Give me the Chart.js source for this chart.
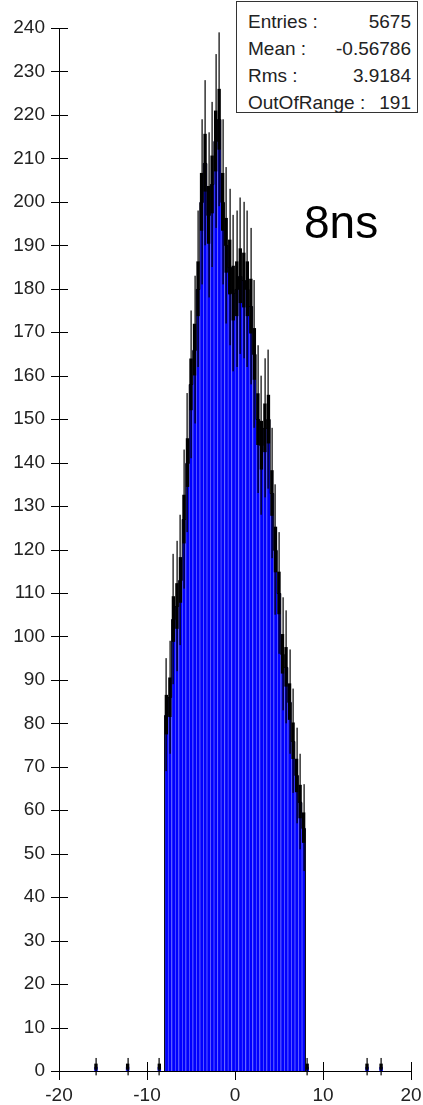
<!DOCTYPE html>
<html>
<head>
<meta charset="utf-8">
<script src="https://cdn.jsdelivr.net/npm/chart.js@4/dist/chart.umd.min.js"></script>
<style>
  html, body { margin: 0; padding: 0; background: #fff; }
  #wrap { position: relative; width: 423px; height: 1105px; overflow: hidden; }
  #c { position: absolute; left: 0; top: 0; }
  .stats { position: absolute; left: 236px; top: 1px; width: 180px; height: 110px;
           border: 1px solid #333; background: #fff; box-sizing: content-box;
           font-family: "Liberation Sans", Arial, sans-serif; font-size: 19px; color: #222; }
  .row { position: absolute; left: 11px; width: 163px; height: 19px; line-height: 19px; white-space: nowrap; }
  .row .v { position: absolute; right: 0; top: 0; }
  .tag { position: absolute; left: 304px; top: 199px; font-family: "Liberation Sans", Arial, sans-serif;
         font-size: 46px; line-height: 46px; color: #000; white-space: nowrap; }
</style>
</head>
<body>
<div id="wrap">
  <canvas id="c" width="423" height="1105"></canvas>
  <div class="stats">
    <div class="row" style="top:10px">Entries :<span class="v">5675</span></div>
    <div class="row" style="top:37px">Mean :<span class="v">-0.56786</span></div>
    <div class="row" style="top:64px">Rms :<span class="v">3.9184</span></div>
    <div class="row" style="top:91px">OutOfRange :<span class="v">191</span></div>
  </div>
  <div class="tag">8ns</div>
</div>
<script>
// ---- data ----
const xTicks = [-20, -10, 0, 10, 20];
const yTicks = [0, 10, 20, 30, 40, 50, 60, 70, 80, 90, 100, 110, 120, 130, 140, 150, 160, 170, 180, 190, 200, 210, 220, 230, 240];
const binWidth = 0.4;
const binCenters = [-7.8, -7.4, -7.0, -6.6, -6.2, -5.8, -5.4, -5.0, -4.6, -4.2,
                    -3.8, -3.4, -3.0, -2.6, -2.2, -1.8, -1.4, -1.0, -0.6, -0.2,
                     0.2,  0.6,  1.0,  1.4,  1.8,  2.2,  2.6,  3.0,  3.4,  3.8,
                     4.2,  4.6,  5.0,  5.4,  5.8,  6.2,  6.6,  7.0,  7.4,  7.8];
const binCounts  = [ 82,  86, 104, 107, 113, 127, 140, 158, 166, 180,
                    200, 209, 197, 204, 214, 219, 200, 190, 185, 179,
                    180, 183, 182, 180, 176, 165, 150, 144, 148, 150,
                    133, 120, 110,  96,  93,  85,  76,  68,  62,  56];
const binErrors  = [ 13,  13,  15,  15,  15,  16,  16,  17,  17,  18,
                     19,  19,  19,  19,  20,  20,  19,  18,  18,  18,
                     18,  18,  18,  18,  18,  17,  17,  16,  16,  16,
                     15,  15,  14,  13,  13,  12,  12,  11,  11,  10];
const outlierCenters = [-15.8, -12.2, -8.6, 8.2, 15.0, 16.6];
const outlierCounts  = [1, 1, 1, 1, 1, 1];
const outlierErrors  = [2, 2, 2, 2, 2, 2];

const allCenters = binCenters.concat(outlierCenters);
const allCounts = binCounts.concat(outlierCounts);
const allErrors = binErrors.concat(outlierErrors);
const points = allCenters.map((c, i) => ({ x: c, y: allCounts[i] }));

const FONT = { family: '"Liberation Sans", Arial, sans-serif', size: 19 };

const histPlugin = {
  id: 'hist',
  beforeDatasetsDraw(chart) {
    const ctx = chart.ctx, xs = chart.scales.x, ys = chart.scales.y, a = chart.chartArea;
    ctx.save();
    ctx.fillStyle = '#000';
    const lx = Math.round(a.left);
    yTicks.forEach(v => {
      const py = Math.round(ys.getPixelForValue(v));
      ctx.fillRect(lx - 8, py, 17, 1);
    });
    const by = Math.round(a.bottom);
    xTicks.forEach(v => {
      const px = Math.round(xs.getPixelForValue(v));
      ctx.fillRect(px, by - 9, 1, 18);
    });
    ctx.restore();
  },
  afterDatasetsDraw(chart) {
    const ctx = chart.ctx, xs = chart.scales.x, ys = chart.scales.y;
    ctx.save();
    // histogram step outline of the main bins
    ctx.strokeStyle = '#000';
    ctx.lineWidth = 1;
    ctx.beginPath();
    const first = xs.getPixelForValue(binCenters[0] - binWidth / 2);
    ctx.moveTo(first, ys.getPixelForValue(0));
    binCenters.forEach((c, i) => {
      const l = xs.getPixelForValue(c - binWidth / 2);
      const r = xs.getPixelForValue(c + binWidth / 2);
      const py = Math.round(ys.getPixelForValue(binCounts[i])) + 0.5;
      ctx.lineTo(l, py);
      ctx.lineTo(r, py);
    });
    ctx.lineTo(xs.getPixelForValue(binCenters[binCenters.length - 1] + binWidth / 2), ys.getPixelForValue(0));
    ctx.stroke();
    // error bars
    ctx.fillStyle = '#000';
    const binPx = xs.getPixelForValue(binWidth) - xs.getPixelForValue(0);
    const bw = binPx * 0.95;
    allCenters.forEach((c, i) => {
      const v = allCounts[i], e = allErrors[i];
      const px = xs.getPixelForValue(c);
      const top = ys.getPixelForValue(v + e), bot = ys.getPixelForValue(v - e);
      ctx.fillRect(Math.round(px) - 0.5, top, 1.2, bot - top);
      const h = e * 0.35;
      const t2 = ys.getPixelForValue(v + h), b2 = ys.getPixelForValue(Math.max(0, v - h));
      ctx.fillRect(px - bw / 2, t2, bw, b2 - t2);
    });
    ctx.restore();
  }
};

new Chart(document.getElementById('c'), {
  type: 'bar',
  data: {
    datasets: [{
      data: points,
      backgroundColor: '#0000ff',
      borderColor: '#5858ff',
      borderWidth: { left: 1, right: 0, top: 0, bottom: 0 },
      borderSkipped: false,
      barPercentage: 1,
      categoryPercentage: 1,
      grouped: false
    }]
  },
  options: {
    responsive: false,
    devicePixelRatio: 1,
    animation: false,
    events: [],
    layout: { padding: { top: 28, right: 12, left: 0, bottom: 0 } },
    plugins: { legend: { display: false }, tooltip: { enabled: false } },
    scales: {
      x: {
        type: 'linear',
        offset: false,
        min: -20, max: 20,
        afterBuildTicks: s => { s.ticks = xTicks.map(v => ({ value: v })); },
        afterFit: s => { s.height = 34; s.paddingLeft = 0; s.paddingRight = 0; },
        grid: { display: false, offset: false },
        border: { display: true, color: '#000', width: 1 },
        ticks: { font: FONT, color: '#222', padding: 5, maxRotation: 0, autoSkip: false }
      },
      y: {
        min: 0, max: 240,
        offset: false,
        afterBuildTicks: s => { s.ticks = yTicks.map(v => ({ value: v })); },
        afterFit: s => { s.width = 59; s.paddingTop = 0; s.paddingBottom = 0; },
        grid: { display: false },
        border: { display: true, color: '#000', width: 1 },
        ticks: { font: FONT, color: '#222', padding: 6, autoSkip: false }
      }
    }
  },
  plugins: [histPlugin]
});
</script>
</body>
</html>
